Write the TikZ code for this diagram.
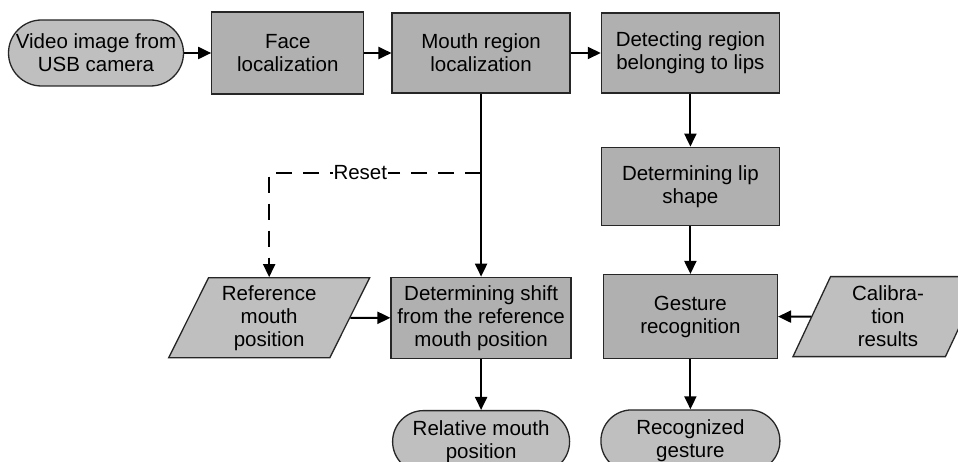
\documentclass[tikz,border=0pt]{standalone}
\usepackage{fontspec}
\setmainfont{Liberation Sans}
\usepackage{xcolor}
\usetikzlibrary{shapes.geometric,arrows.meta,positioning}
\definecolor{procgray}{gray}{0.69}
\definecolor{iogray}{gray}{0.75}

\begin{document}
\begin{tikzpicture}[x=1pt,y=-1pt,
  font=\fontsize{20.5}{23}\selectfont,
  proc/.style={draw=black!85,line width=1.3pt,fill=procgray,align=center,inner sep=2pt},
  term/.style={draw=black!85,line width=1.3pt,fill=iogray,align=center,rounded corners=31pt,minimum height=62pt,inner sep=2pt},
  io/.style={trapezium,trapezium left angle=60,trapezium right angle=120,trapezium stretches body,draw=black!85,line width=1.3pt,fill=iogray,align=center,minimum height=80pt,inner sep=2pt},
  arr/.style={-{Triangle[length=13pt,width=12pt]},line width=2pt},
  dsh/.style={arr,dash pattern=on 16pt off 11pt},
  node distance=27pt]
  \useasboundingbox (0,0) rectangle (958,462);
  % top row
  \node[term,minimum width=175pt,minimum height=66pt,rounded corners=33pt] (video) at (96,53) {Video image from\\USB camera};
  \node[proc,minimum width=152pt,minimum height=82pt,right=of video] (face) {Face\\localization};
  \node[proc,minimum width=178pt,minimum height=80pt,right=of face] (mouth) {Mouth region\\localization};
  \node[proc,minimum width=178pt,minimum height=80pt,right=30pt of mouth] (detect) {Detecting region\\belonging to lips};
  % right column
  \node[proc,minimum width=178pt,minimum height=78pt,below=53pt of detect] (lip) {Determining lip\\shape};
  \node[proc,minimum width=174pt,minimum height=84pt,below=48pt of lip] (gest) {Gesture\\recognition};
  \node[term,minimum width=179pt,below=50pt of gest] (recog) {Recognized\\gesture};
  \node[io,minimum width=190pt,right=33pt of gest] (calib) {Calibra-\\tion\\results};
  % middle column
  \node[proc,minimum width=180pt,minimum height=81pt,below=183pt of mouth] (shift) {Determining shift\\from the reference\\mouth position};
  \node[term,minimum width=177pt,below=51pt of shift] (rel) {Relative mouth\\position};
  \node[io,minimum width=201pt,left=40pt of shift] (ref) {Reference\\mouth\\position};
  \path (mouth.south) ++(0,79) coordinate (rst);
  \draw[arr] (video)--(face); \draw[arr] (face)--(mouth); \draw[arr] (mouth)--(detect);
  \draw[arr] (detect)--(lip); \draw[arr] (lip)--(gest); \draw[arr] (gest)--(recog);
  \draw[arr] (calib)--(gest);
  \draw[arr] (mouth)--(shift); \draw[arr] (shift)--(rel); \draw[arr] (ref)--(shift);
  \draw[dsh] (rst) -- node[pos=0.57,fill=white,inner sep=1pt] {Reset} (rst -| ref.north) -- (ref.north);
\end{tikzpicture}
\end{document}
